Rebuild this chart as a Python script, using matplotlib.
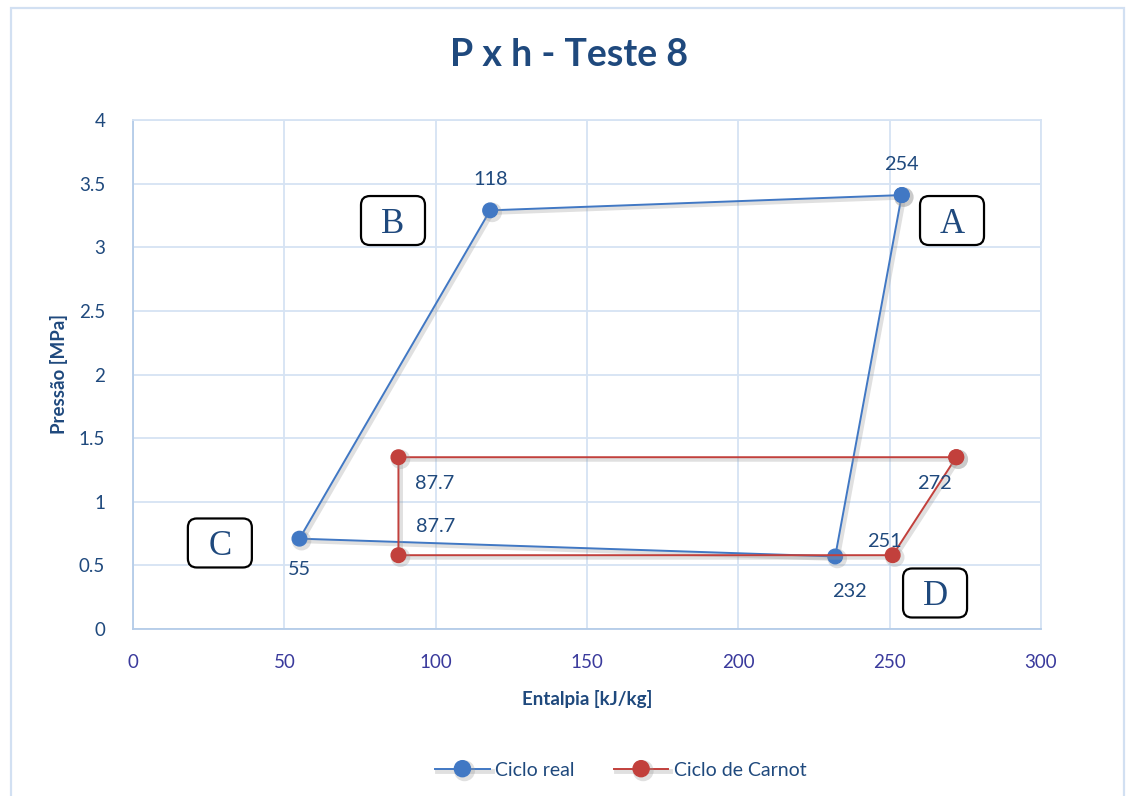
import matplotlib
matplotlib.use("Agg")
import matplotlib.pyplot as plt
import matplotlib.patheffects as pe
import matplotlib.transforms as mtransforms
from matplotlib.patches import FancyBboxPatch, Rectangle

# Ciclo real (A -> B -> C -> D -> A)
real_h = [254, 118, 55, 232, 254]
real_p = [3.41, 3.29, 0.71, 0.57, 3.41]
real_labels = ["254", "118", "55", "232"]

# Ciclo de Carnot
carnot_h = [272, 87.7, 87.7, 251, 272]
carnot_p = [1.35, 1.35, 0.58, 0.58, 1.35]
carnot_labels = ["272", "87.7", "87.7", "251"]

state_names = ["A", "B", "C", "D"]
state_pos = [(270.6, 3.21), (85.9, 3.21), (28.7, 0.676), (265, 0.283)]

x_ticks = [0, 50, 100, 150, 200, 250, 300]
y_ticks = [0, 0.5, 1, 1.5, 2, 2.5, 3, 3.5, 4]

DARK = "#1F497D"
BLUE = "#4178C4"
RED = "#C2403C"
GRID = "#D6E3F3"
FONT = "Lato"

fig = plt.figure(figsize=(11.28, 7.96), dpi=100)
fig.patch.set_facecolor("white")
fig.patches.append(Rectangle((11 / 1128, -0.05), 1113 / 1128, 1.05 - 8 / 796,
                             transform=fig.transFigure, fill=False,
                             edgecolor="#D2E0F2", linewidth=1.6))

ax = fig.add_axes([133 / 1128, 1 - 629 / 796, (1041 - 133) / 1128, (629 - 120) / 796])
ax.set_xlim(0, 300)
ax.set_ylim(0, 4)
ax.set_xticks(x_ticks)
ax.set_yticks(y_ticks)
ax.set_xticklabels([str(v) for v in x_ticks])
ax.set_yticklabels([f"{v:g}" for v in y_ticks])
ax.grid(True, color=GRID, linewidth=1.3)
ax.set_axisbelow(True)
for side, sp in ax.spines.items():
    sp.set_color(GRID)
    sp.set_linewidth(1.3)
ax.spines["left"].set_color("#B4CCE8")
ax.spines["bottom"].set_color("#B4CCE8")
ax.tick_params(axis="x", length=0, pad=18)
ax.tick_params(axis="y", length=0, pad=20)
for lab in ax.get_xticklabels():
    lab.set_fontfamily(FONT)
    lab.set_fontsize(13.5)
    lab.set_color("#3A3A9C")
for lab in ax.get_yticklabels():
    lab.set_fontfamily(FONT)
    lab.set_fontsize(13.5)
    lab.set_color(DARK)

shadow = [pe.SimpleLineShadow(offset=(1.5, -1.5), shadow_color="#999999", alpha=0.3, linewidth=3.5), pe.Normal()]
ax.plot(real_h, real_p, color=BLUE, linewidth=1.4, marker="o", markersize=10.5,
        markerfacecolor=BLUE, markeredgecolor=BLUE, label="Ciclo real",
        path_effects=shadow, zorder=3)
ax.plot(carnot_h, carnot_p, color=RED, linewidth=1.4, marker="o", markersize=10.5,
        markerfacecolor=RED, markeredgecolor=RED, label="Ciclo de Carnot",
        path_effects=shadow, zorder=3)

lab_kw = dict(fontfamily=FONT, fontsize=14.3, color=DARK, textcoords="offset points", zorder=5)
real_offsets = [(0, 22), (0, 22), (0, -22), (10, -25)]
for h, p, t, off in zip(real_h[:4], real_p[:4], real_labels, real_offsets):
    ax.annotate(t, (h, p), xytext=off, ha="center", va="center", **lab_kw)
carnot_offsets = [(-16, -19), (26, -19), (27, 21), (-6, 10)]
for h, p, t, off in zip(carnot_h[:4], carnot_p[:4], carnot_labels, carnot_offsets):
    ax.annotate(t, (h, p), xytext=off, ha="center", va="center", **lab_kw)

# state boxes: fixed size in inches, centred on a data point
box_w, box_h, box_r = 0.64, 0.49, 0.09
for name, (x, y) in zip(state_names, state_pos):
    tr = fig.dpi_scale_trans + mtransforms.ScaledTranslation(x, y, ax.transData)
    box = FancyBboxPatch((-box_w / 2, -box_h / 2), box_w, box_h,
                         boxstyle=f"round,pad=0,rounding_size={box_r}",
                         transform=tr, facecolor="white", edgecolor="black",
                         linewidth=1.6, zorder=6, clip_on=False)
    ax.add_patch(box)
    ax.text(x, y, name, fontfamily="Liberation Serif", fontsize=25, color=DARK,
            ha="center", va="center_baseline", zorder=7)

ax.set_xlabel("Entalpia [kJ/kg]", fontfamily=FONT, fontsize=13.5, fontweight="bold",
              color=DARK, labelpad=14)
ax.set_ylabel("Pressão [MPa]", fontfamily=FONT, fontsize=13.5, fontweight="bold",
              color=DARK, labelpad=8)

fig.text(569 / 1128, 1 - 55 / 796, "P x h - Teste 8", fontfamily=FONT, fontsize=27,
         fontweight="bold", color=DARK, ha="center", va="center")

leg = fig.legend(loc="center", bbox_to_anchor=(621 / 1128, 1 - 770 / 796), ncol=2,
                 frameon=False, prop=dict(family=FONT, size=14), handlelength=2.8,
                 columnspacing=2.0, handletextpad=0.3, markerscale=1.1)
for t in leg.get_texts():
    t.set_color(DARK)

fig.savefig("out.png", dpi=100, facecolor="white")
